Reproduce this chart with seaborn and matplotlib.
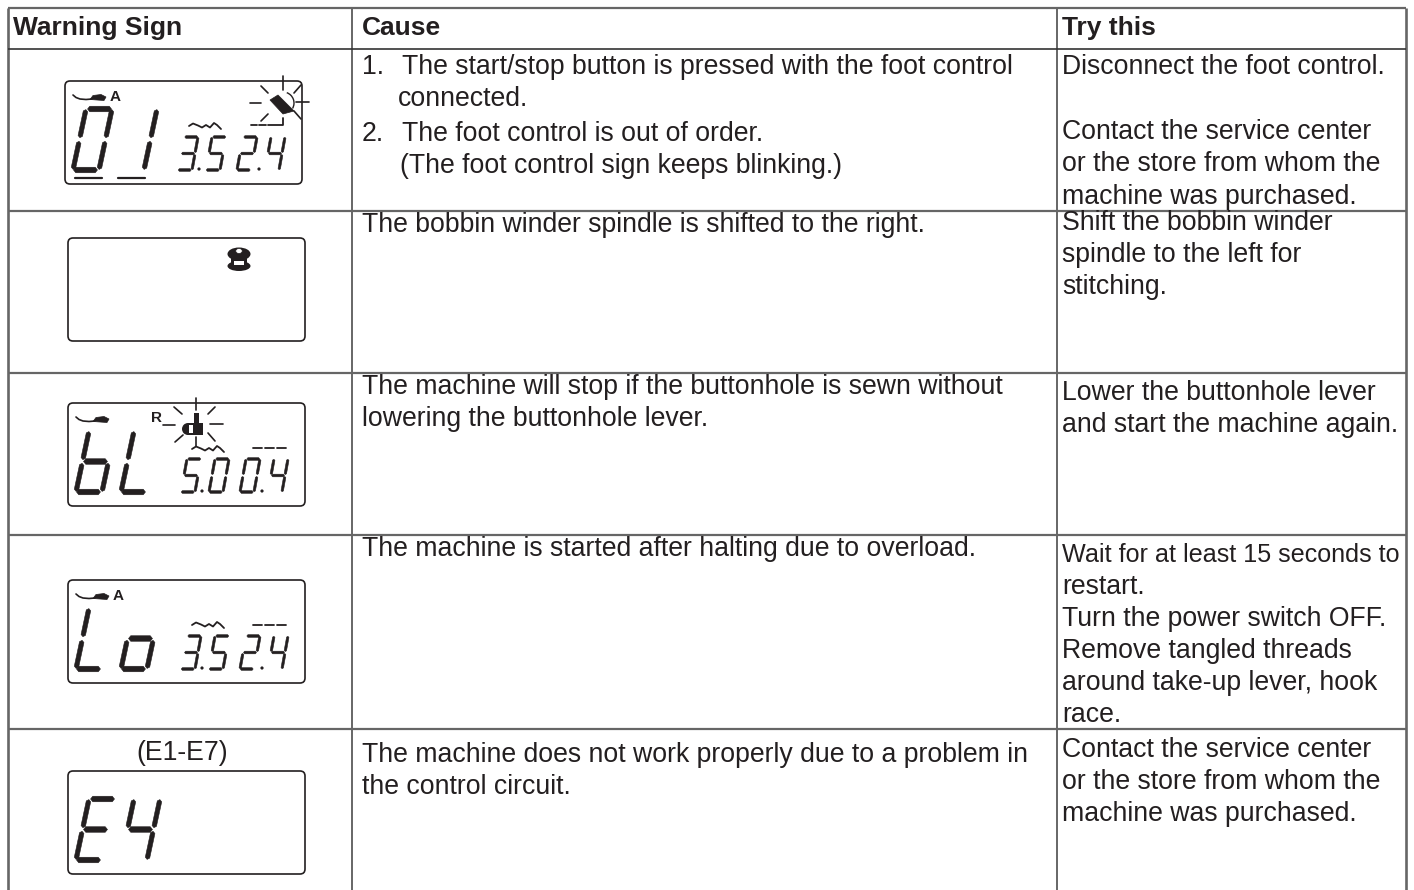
import matplotlib
matplotlib.use("Agg")
import matplotlib.pyplot as plt
from matplotlib.patches import FancyBboxPatch, Ellipse, Polygon, Arc, Rectangle
import numpy as np
import seaborn as sns

sns.set_theme(style="white")
plt.rcParams['font.family'] = ['Liberation Sans', 'DejaVu Sans']

INK = '#231f20'
RULE = '#666666'

# table text
headers = ['Warning Sign', 'Cause', 'Try this']
cause_lines = [
    ['1.', 'The start/stop button is pressed with the foot control'],
    ['', 'connected.'],
    ['2.', 'The foot control is out of order.'],
    ['', '(The foot control sign keeps blinking.)'],
    ['', 'The bobbin winder spindle is shifted to the right.'],
    ['', 'The machine will stop if the buttonhole is sewn without'],
    ['', 'lowering the buttonhole lever.'],
    ['', 'The machine is started after halting due to overload.'],
    ['', 'The machine does not work properly due to a problem in'],
    ['', 'the control circuit.'],
]
try_lines = [
    'Disconnect the foot control.', 'Contact the service center',
    'or the store from whom the', 'machine was purchased.',
    'Shift the bobbin winder', 'spindle to the left for', 'stitching.',
    'Lower the buttonhole lever', 'and start the machine again.',
    'Wait for at least 15 seconds to', 'restart.', 'Turn the power switch OFF.',
    'Remove tangled threads', 'around take-up lever, hook', 'race.',
    'Contact the service center', 'or the store from whom the',
    'machine was purchased.',
]
caption_e = '(E1-E7)'

# what each display shows
big_text = ['01', '', 'bL', 'Lo', 'E4']
small_text = [['3', '5', '2', '4'], [], ['5', '0', '0', '4'], ['3', '5', '2', '4'], []]
foot_label = ['A', '', '', 'A', '']

# layout, all in image pixels
col_x = [8, 352, 1057, 1406]
row_y = [8, 48.5, 210.5, 373, 535, 729, 890]
cause_base = [74, 106, 141, 173, 232, 394, 426, 556, 762, 794]
cause_x = [402, 398, 402, 400, 362, 362, 362, 362, 362, 362]
try_base = [74, 139, 171, 204, 230, 262, 294, 400, 432, 562, 594, 626, 658, 690, 722, 757, 789, 821]
box_left = [65, 68, 68, 68, 68]
box_top = [81, 238, 403, 580, 771]

SEGS = {
    'a': ((.06, 1), (.98, 1)), 'b': ((1, .99), (1, .53)), 'c': ((1, .47), (1, .01)),
    'd': ((.02, 0), (.94, 0)), 'e': ((0, .47), (0, .01)), 'f': ((0, .99), (0, .53)),
    'g': ((.04, .5), (.96, .5)),
}
DIGITS = {
    '0': 'abcdef', '1': 'bc', '2': 'abged', '3': 'abgcd', '4': 'fgbc', '5': 'afgcd',
    'b': 'fedcg', 'L': 'fed', 'o': 'gcde', 'E': 'afged',
}

fig, ax = plt.subplots(figsize=(14.14, 8.9), dpi=100)
fig.subplots_adjust(0, 0, 1, 1)


def stroke(xs, ys, lw=1.1, color=INK, cap='round'):
    sns.lineplot(x=xs, y=ys, ax=ax, estimator=None, sort=False, color=color, linewidth=lw,
                 legend=False, errorbar=None, solid_capstyle=cap)


def segment(p0, p1, t):
    # blunt pointed bar, the shape of an LCD segment
    p0, p1 = np.array(p0), np.array(p1)
    d = (p1 - p0) / np.hypot(*(p1 - p0))
    n = np.array([-d[1], d[0]])
    cut = t * 0.4
    pts = [p0, p0 + d * cut + n * t / 2, p1 - d * cut + n * t / 2, p1, p1 - d * cut - n * t / 2, p0 + d * cut - n * t / 2]
    ax.add_patch(Polygon(pts, closed=True, fc=INK, ec=INK, lw=0.4, joinstyle='round'))


def seven_seg(ch, x, ybot, w, h, skew, t_h, t_v):
    for s in DIGITS[ch]:
        (u0, v0), (u1, v1) = SEGS[s]
        p0 = (x + u0 * w + v0 * skew, ybot - v0 * h)
        p1 = (x + u1 * w + v1 * skew, ybot - v1 * h)
        segment(p0, p1, t_h if s in 'adg' else t_v)


def presser_foot(x, y, label):
    stroke([x + 8, x + 11, x + 15, x + 21, x + 27], [y + 14, y + 16.5, y + 18, y + 18.5, y + 18], 1.2)
    ax.add_patch(Polygon([(x + 25, y + 18.5), (x + 28, y + 14.5), (x + 36, y + 13.5), (x + 41, y + 16),
                          (x + 39, y + 19.5)], closed=True, fc=INK, ec=INK, lw=0.5))
    if label:
        ax.text(x + 50, y + 16, label, fontsize=11, fontweight='bold', color=INK, ha='center', va='center')


def zigzag(x, y):
    stroke([x, x + 4, x + 9, x + 13, x + 17, x + 21, x + 25, x + 28, x + 32],
           [y + 4, y + 1.5, y + 3.5, y + 5.5, y + 3, y + 5.5, y + 1, y + 3, y + 7], 1.3)


def rays(cx, cy, spec):
    for x0, y0, x1, y1 in spec:
        stroke([cx + x0, cx + x1], [cy + y0, cy + y1], 1.2)


# table rules
for i, x in enumerate(col_x):
    stroke([x, x], [row_y[0], row_y[-1]], 1.9 if i in (0, 3) else 1.4, RULE, 'butt')
for i, y in enumerate(row_y[:-1]):
    stroke([col_x[0], col_x[-1]], [y, y], 1.2 if i == 1 else 1.6, '#333333' if i == 1 else RULE, 'butt')

# table text
for x, label in zip([13, 362, 1062], headers):
    ax.text(x, 35, label, fontsize=19, fontweight='bold', color=INK, va='baseline')
for (num, line), x, y in zip(cause_lines, cause_x, cause_base):
    if num:
        ax.text(362, y, num, fontsize=19.2, color=INK, va='baseline')
    ax.text(x, y, line, fontsize=19.2, color=INK, va='baseline')
for line, y in zip(try_lines, try_base):
    ax.text(1062, y, line, fontsize=18.1 if line.startswith('Wait') else 19.2, color=INK, va='baseline')
ax.text(182, 760, caption_e, fontsize=19.2, color=INK, ha='center', va='baseline')

# displays
for i, (x, y) in enumerate(zip(box_left, box_top)):
    ax.add_patch(FancyBboxPatch((x, y), 237, 103, boxstyle='round,pad=0,rounding_size=5',
                                fc='white', ec=INK, lw=1.2))
    for ch, off in zip(big_text[i], [8, 53]):
        seven_seg(ch, x + off, y + 89, 26, 61, 13, 5.5, 4.5)
    for ch, off in zip(small_text[i], [113, 141, 172, 200]):
        seven_seg(ch, x + off, y + 89, 14, 33, 6, 2.6, 2.4)
    if small_text[i]:
        for off in [134, 194]:
            ax.add_patch(Ellipse((x + off, y + 88), 3.2, 3.2, fc=INK, ec='none'))
    if i != 1 and i != 4:
        presser_foot(x, y, foot_label[i])

# underscores below "01"
x, y = box_left[0], box_top[0]
stroke([x + 10, x + 37], [y + 96.5, y + 96.5], 1.6)
stroke([x + 53, x + 80], [y + 96.5, y + 96.5], 1.6)

# first display: blinking foot control sign
cx, cy = x + 218, y + 22
rays(cx, cy, [(0, -27, 0, -13), (-33, 0, -22, 0), (13, -1, 26, -1), (-22, -17, -15, -10),
              (18, -18, 11, -10), (-22, 18, -15, 11), (11, 8, 18, 16)])
ax.add_patch(Polygon([(cx - 13, cy - 3), (cx - 5, cy - 8), (cx + 11, cy + 8), (cx, cy + 11)],
                     closed=True, fc=INK, ec=INK, lw=0.5))
ax.add_patch(Arc((cx, cy), 22, 22, theta1=-50, theta2=50, angle=-20, ec=INK, lw=1.0))
stroke([cx - 32, cx - 26], [cy + 22, cy + 22], 1.3)
stroke([cx - 24, cx - 17], [cy + 22, cy + 22], 1.3)
stroke([cx - 15, cx, cx], [cy + 22, cy + 22, cy + 15], 1.3)
zigzag(x + 124, y + 41)

# second display: bobbin
x, y = box_left[1], box_top[1]
bx, by = x + 171, y + 21
ax.add_patch(Ellipse((bx, by - 5), 23, 13, fc=INK, ec='none'))
ax.add_patch(Ellipse((bx, by + 7), 23, 10, fc=INK, ec='none'))
ax.add_patch(Rectangle((bx - 8, by - 2), 16, 8, fc=INK, ec='none'))
ax.add_patch(Rectangle((bx - 5, by + 2), 10, 3.5, fc='white', ec='none'))
ax.add_patch(Ellipse((bx, by - 8), 6.5, 5, fc='white', ec=INK, lw=0.5))

# third display: blinking buttonhole sign
x, y = box_left[2], box_top[2]
ax.text(x + 89, y + 15, 'R', fontsize=11, fontweight='bold', color=INK, ha='center', va='center')
cx, cy = x + 128, y + 25
rays(cx, cy, [(0, -30, 0, -18), (-33, -3, -21, -3), (14, -4, 27, -4), (-22, -21, -14, -14),
              (19, -21, 12, -14), (-21, 14, -13, 7), (19, 13, 12, 5)])
ax.add_patch(Ellipse((cx - 8, cy + 1), 12, 12, fc=INK, ec='none'))
ax.add_patch(Rectangle((cx - 8, cy - 5), 15, 12, fc=INK, ec='none'))
ax.add_patch(Rectangle((cx - 2.5, cy - 15), 5, 11, fc=INK, ec='none'))
ax.add_patch(Rectangle((cx - 7, cy - 3), 3.5, 8, fc='white', ec='none'))
stroke([cx, cx], [cy + 9, cy + 18], 1.2)
zigzag(x + 124, y + 42)

# fourth display
x, y = box_left[3], box_top[3]
zigzag(x + 124, y + 41)

# dashes over the stitch length
for i in (2, 3):
    x, y = box_left[i], box_top[i]
    for off in [185, 197, 209]:
        stroke([x + off, x + off + 9], [y + 45, y + 45], 1.3)

ax.set_xlim(0, 1414)
ax.set_ylim(890, 0)
ax.axis('off')
fig.savefig('out.png', dpi=100, facecolor='white')
